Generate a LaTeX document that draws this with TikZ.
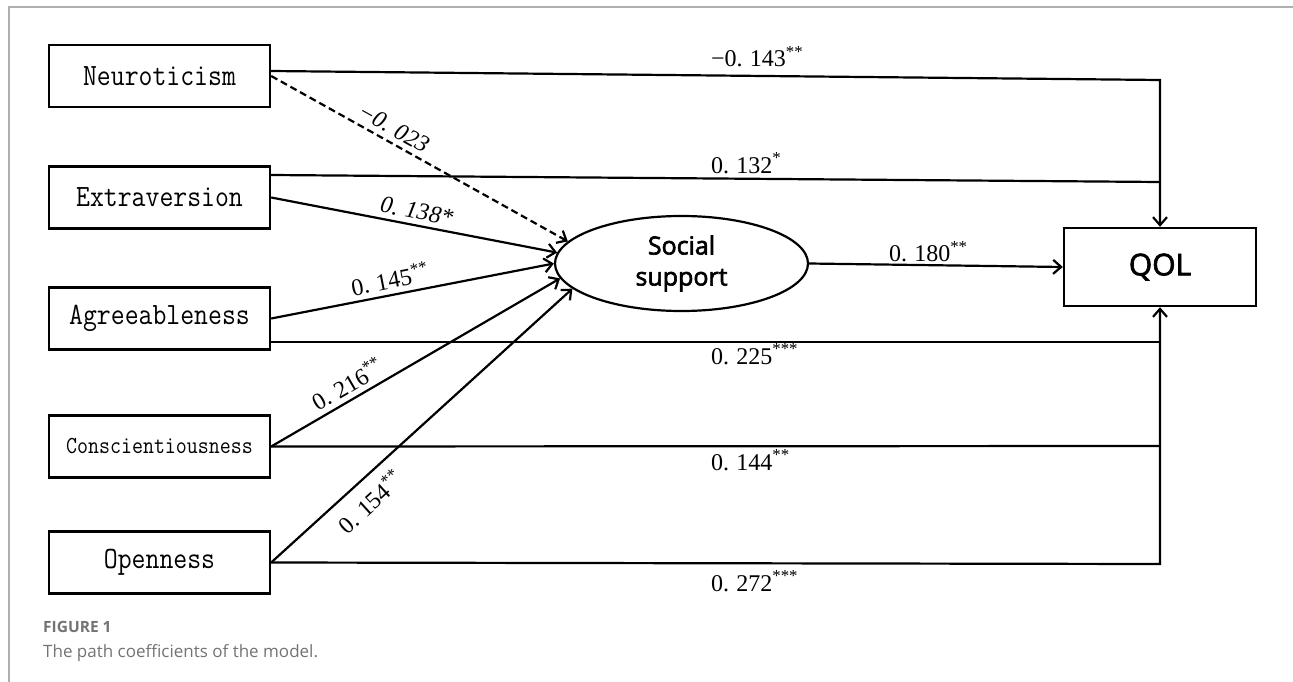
\documentclass[tikz,border=0pt]{standalone}
\usepackage{fontspec}
\usepackage{graphicx}
\setmainfont{Liberation Serif}
\newfontfamily\sansf{Open Sans}
\newfontfamily\sansm{Open Sans}[FakeBold=2.5]
\usetikzlibrary{shapes.geometric,arrows.meta,calc}
\definecolor{capgray}{RGB}{115,115,115}
\definecolor{framegray}{RGB}{175,175,175}
\newcommand{\pd}{.\hspace{0.3em}}
\newcommand{\boxtxt}[1]{\scalebox{0.87}[1]{#1}}
\begin{document}
\begin{tikzpicture}[x=1pt,y=-1pt,
  box/.style={draw, line width=2.4pt, minimum width=221pt, minimum height=62pt, inner sep=0pt,
    font=\fontsize{31}{31}\ttfamily},
  conn/.style={line width=2.2pt},
  arr/.style={line width=2.2pt, -{Straight Barb[length=8pt,width=14pt]}},
  lab/.style={font=\fontsize{24}{24}\selectfont, inner sep=2pt},
  slab/.style={lab, sloped, inner sep=5pt},
  captxt/.style={anchor=base west, inner sep=0pt, text=capgray},
]
\useasboundingbox (0,0) rectangle (1293,682);
% frame
\draw[framegray, line width=1.5pt] (9,682) -- (9,7) -- (1293,7);

% nodes
\node[box] (neu) at (159.5,76) {\boxtxt{Neuroticism}};
\node[box] (ext) at (159.5,197.5) {\boxtxt{Extraversion}};
\node[box] (agr) at (159.5,318.5) {\boxtxt{Agreeableness}};
\node[box, font=\fontsize{24.5}{24.5}\ttfamily] (con) at (159.5,446.5) {\boxtxt{Conscientiousness}};
\node[box] (ope) at (159.5,562.5) {\boxtxt{Openness}};
\node[draw, ellipse, line width=2.2pt, minimum width=253pt, minimum height=95pt, inner sep=0pt,
  align=center, font=\fontsize{25}{31}\sansm] (ss) at (681.5,263.5) {Social\\support};
\node[draw, line width=2.4pt, minimum width=192pt, minimum height=78pt, inner sep=0pt,
  font=\fontsize{30}{30}\sansm] (qol) at (1160,267) {QOL};

% junctions
\coordinate (jn) at (1160,80);
\coordinate (je) at (1160,182);
\coordinate (ja) at (1160,342);
\coordinate (jc) at (1160,446);
\coordinate (jo) at (1160,564);

% direct paths to QOL
\draw[arr] ([yshift=5pt]neu.east) -- (jn) -- (qol.north);
\draw[conn] ([yshift=22.5pt]ext.east) -- (je);
\draw[conn] ([yshift=-23.5pt]agr.east) -- (ja);
\draw[conn] (con.east) -- (jc);
\draw[arr] (ope.east) -- (jo) -- (qol.south);

\node[lab, anchor=base west] at (709,67) {−0\pd 143\textsuperscript{**}};
\node[lab, anchor=base west] at (709,173) {0\pd 132\textsuperscript{*}};
\node[lab, anchor=base west] at (709,364) {0\pd 225\textsuperscript{***}};
\node[lab, anchor=base west] at (709,470) {0\pd 144\textsuperscript{**}};
\node[lab, anchor=base west] at (709,591) {0\pd 272\textsuperscript{***}};

% paths to social support
\draw[arr, dash pattern=on 7pt off 4pt] (neu.east) -- node[slab, above, pos=0.39, font=\fontsize{24}{24}\itshape] {−0\pd 023} (ss.169.5);
\draw[arr] (ext.east) -- node[slab, above, pos=0.5, font=\fontsize{24}{24}\itshape] {0\pd 138*} (ss.175.1);
\draw[arr] (agr.east) -- node[slab, above, pos=0.43] {0\pd 145\textsuperscript{**}} (ss.180.7);
\draw[arr] (con.east) -- node[slab, above, pos=0.29] {0\pd 216\textsuperscript{**}} (ss.187.7);
\draw[arr] (ope.east) -- node[slab, below, pos=0.28, inner sep=10pt] {0\pd 154\textsuperscript{**}} (ss.193.1);

% social support -> QOL
\draw[arr] (ss.east) -- node[lab, above, pos=0.47] {0\pd 180\textsuperscript{**}} (qol.west);

% caption
\node[captxt, font=\fontsize{15.5}{15.5}\sansf\bfseries] (fig) at (43,632) {FIGURE 1};
\node[captxt, font=\fontsize{17}{17}\sansf] (capt) at (43,657) {The path coefficients of the model.};
\end{tikzpicture}
\end{document}
